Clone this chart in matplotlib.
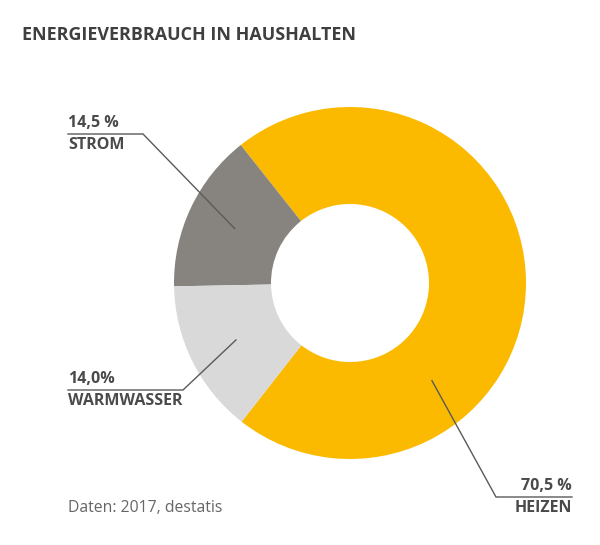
import numpy as np
import matplotlib
matplotlib.use("Agg")
import matplotlib.pyplot as plt

# data
labels = ["HEIZEN", "STROM", "WARMWASSER"]
values = [70.5, 14.5, 14.0]
value_labels = ["70,5 %", "14,5 %", "14,0%"]
colors = ["#FBBA00", "#878480", "#D9D9D9"]

title = "ENERGIEVERBRAUCH IN HAUSHALTEN"
source = "Daten: 2017, destatis"

W, H = 600, 545
txt_col = "#4a4a4a"
plt.rcParams['font.family'] = ['Open Sans', 'DejaVu Sans']

fig = plt.figure(figsize=(W / 100, H / 100), dpi=100)
ax = fig.add_axes([0, 0, 1, 1])

cx, cy = 350, H - 283
R, r = 176, 79
wedges, _ = ax.pie(values, colors=colors, startangle=-128, counterclock=True,
                   center=(cx, cy), radius=R,
                   wedgeprops=dict(width=R - r, linewidth=0))
ax.set_xlim(0, W)
ax.set_ylim(0, H)
ax.set_aspect('equal')
ax.axis('off')

# leader lines: start in the ring, elbow, horizontal run to the label
mid_r = (R + r) / 2
angles = [(w.theta1 + w.theta2) / 2 for w in wedges]
angles[0] = -50  # heizen line starts lower right
elbows = [(496, H - 497), (143, H - 134), (183, H - 390)]
ends = [572, 68, 68]

for i, w in enumerate(wedges):
    a = np.deg2rad(angles[i])
    x0 = cx + mid_r * np.cos(a)
    y0 = cy + mid_r * np.sin(a)
    ex, ey = elbows[i]
    ax.plot([x0, ex, ends[i]], [y0, ey, ey], color="#5a5a5a", lw=1,
            solid_joinstyle='miter')
    ha = 'right' if ends[i] > ex else 'left'
    ax.text(ends[i], ey + 3, value_labels[i], ha=ha, va='bottom',
            fontsize=11.5, fontweight='bold', color=txt_col)
    ax.text(ends[i], ey - 3, labels[i], ha=ha, va='top',
            fontsize=11.5, fontweight='bold', color=txt_col)

fig.text(22 / W, 1 - 35 / H, title, ha='left', va='center',
         fontsize=12.9, fontweight='bold', color="#3f3f3f")
fig.text(68 / W, 1 - 508 / H, source, ha='left', va='center',
         fontsize=11.3, color="#666666")

fig.savefig("out.png", dpi=100)
